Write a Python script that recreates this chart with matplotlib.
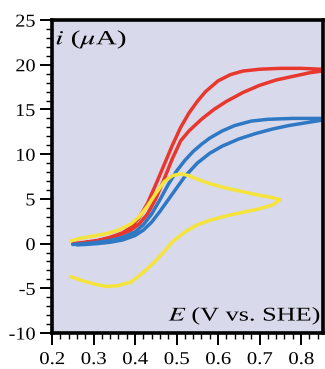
import matplotlib.pyplot as plt
from matplotlib.ticker import MultipleLocator
from matplotlib.patheffects import AbstractPathEffect
from matplotlib.transforms import Affine2D

plt.rcParams['font.family'] = ['Liberation Serif', 'DejaVu Serif']
plt.rcParams['mathtext.fontset'] = 'stix'

# red CV (higher substrate), forward then reverse
red_fwd_x = [0.25, 0.28, 0.31, 0.34, 0.37, 0.39, 0.41, 0.43, 0.45, 0.47, 0.49, 0.51,
             0.53, 0.55, 0.57, 0.60, 0.63, 0.66, 0.70, 0.75, 0.80, 0.85]
red_fwd_y = [0.0, 0.15, 0.35, 0.7, 1.2, 1.8, 2.9, 4.5, 6.6, 8.8, 11.0, 13.0,
             14.6, 15.9, 17.0, 18.2, 18.9, 19.3, 19.5, 19.6, 19.6, 19.5]
red_rev_x = [0.85, 0.82, 0.78, 0.74, 0.70, 0.66, 0.62, 0.59, 0.56, 0.53, 0.51, 0.49,
             0.47, 0.45, 0.43, 0.41, 0.39, 0.36, 0.33, 0.30, 0.27]
red_rev_y = [19.3, 19.1, 18.7, 18.3, 17.7, 16.9, 15.9, 15.0, 13.9, 12.6, 11.5, 9.5,
             7.2, 5.0, 3.3, 2.2, 1.5, 0.9, 0.5, 0.2, 0.05]

# blue CV
blue_fwd_x = [0.25, 0.28, 0.31, 0.34, 0.37, 0.40, 0.42, 0.44, 0.46, 0.48, 0.50, 0.52,
              0.54, 0.56, 0.58, 0.61, 0.64, 0.68, 0.72, 0.78, 0.85]
blue_fwd_y = [-0.1, 0.0, 0.15, 0.35, 0.7, 1.3, 2.1, 3.3, 4.9, 6.6, 8.1, 9.3,
              10.3, 11.1, 11.8, 12.6, 13.2, 13.7, 13.9, 14.0, 14.0]
blue_rev_x = [0.85, 0.81, 0.77, 0.73, 0.69, 0.65, 0.61, 0.58, 0.55, 0.52, 0.50, 0.48,
              0.46, 0.44, 0.42, 0.40, 0.37, 0.34, 0.31, 0.28, 0.26]
blue_rev_y = [13.8, 13.5, 13.2, 12.8, 12.3, 11.7, 10.9, 10.1, 9.0, 7.5, 6.2, 4.9,
              3.6, 2.4, 1.5, 0.9, 0.4, 0.15, 0.0, -0.1, -0.15]

# yellow CV (no substrate)
yel_fwd_x = [0.245, 0.27, 0.30, 0.33, 0.36, 0.39, 0.41, 0.43, 0.45, 0.47, 0.49, 0.51,
             0.53, 0.55, 0.58, 0.62, 0.66, 0.70, 0.73, 0.75]
yel_fwd_y = [0.3, 0.6, 0.85, 1.1, 1.5, 2.2, 3.0, 4.2, 5.6, 6.9, 7.6, 7.8,
             7.6, 7.2, 6.7, 6.2, 5.8, 5.4, 5.15, 4.9]
yel_rev_x = [0.75, 0.73, 0.70, 0.66, 0.62, 0.58, 0.55, 0.52, 0.49, 0.47, 0.45, 0.43,
             0.41, 0.39, 0.36, 0.33, 0.30, 0.27, 0.245]
yel_rev_y = [4.9, 4.3, 3.9, 3.5, 3.1, 2.6, 2.1, 1.3, 0.2, -0.9, -1.9, -2.8,
             -3.6, -4.3, -4.7, -4.8, -4.5, -4.1, -3.7]

x_ticks = [0.2, 0.3, 0.4, 0.5, 0.6, 0.7, 0.8]
y_ticks = [-10, -5, 0, 5, 10, 15, 20, 25]


class HStretch(AbstractPathEffect):
    """widen glyphs horizontally, keeping one side (or the centre) fixed"""
    def __init__(self, sx, anchor='center'):
        super().__init__()
        self.sx = sx
        self.anchor = anchor

    def draw_path(self, renderer, gc, tpath, affine, rgbFace=None):
        xs = affine.transform(tpath.vertices)[:, 0]
        x0 = {'left': xs.min(), 'right': xs.max()}.get(self.anchor, (xs.min() + xs.max()) / 2)
        stretch = Affine2D().translate(-x0, 0).scale(self.sx, 1).translate(x0, 0)
        renderer.draw_path(gc, tpath, affine + stretch, rgbFace)


fig = plt.figure(figsize=(3.25, 3.69), dpi=100)
ax = fig.add_axes([0.16, 0.0976, 0.834, 0.848])
ax.set_facecolor('#d9d9ec')

for xs, ys, c in [(red_fwd_x + red_rev_x, red_fwd_y + red_rev_y, '#e8372c'),
                  (blue_fwd_x + blue_rev_x, blue_fwd_y + blue_rev_y, '#2f78c4'),
                  (yel_fwd_x + yel_rev_x, yel_fwd_y + yel_rev_y, '#f4e43c')]:
    ax.plot(xs, ys, color=c, lw=2.5, solid_joinstyle='round', solid_capstyle='round')

ax.set_xlim(0.2, 0.853)
ax.set_ylim(-10, 25)
ax.set_xticks(x_ticks)
ax.set_xticklabels([f'{v:.1f}' for v in x_ticks])
ax.set_yticks(y_ticks)
ax.set_yticklabels([str(v) for v in y_ticks])
ax.xaxis.set_minor_locator(MultipleLocator(0.02))
ax.yaxis.set_minor_locator(MultipleLocator(1))

ax.tick_params(which='major', direction='out', length=8.5, width=1.4, labelsize=13)
ax.tick_params(which='minor', direction='out', length=4.3, width=1.0)
ax.tick_params(axis='x', which='major', pad=4.5)
ax.tick_params(axis='y', which='major', pad=3.5)
for lab in ax.get_xticklabels():
    lab.set_path_effects([HStretch(1.15, 'center')])
for lab in ax.get_yticklabels():
    lab.set_path_effects([HStretch(1.12, 'right')])
for s in ax.spines.values():
    s.set_linewidth(2.6)

ax.text(0.012, 0.975, r'$i$ ($\mu$A)', transform=ax.transAxes, fontsize=14.5,
        ha='left', va='top', path_effects=[HStretch(1.45, 'left')])
ax.text(0.995, 0.02, r'$E$ (V vs. SHE)', transform=ax.transAxes, fontsize=14,
        ha='right', va='bottom', path_effects=[HStretch(1.35, 'right')])

fig.savefig('out.png', dpi=100)
